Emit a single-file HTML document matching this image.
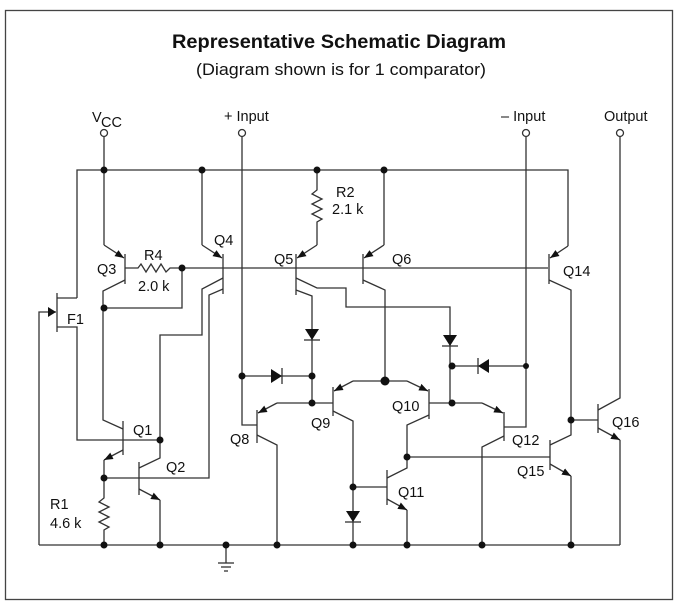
<!DOCTYPE html>
<html><head><meta charset="utf-8"><style>
html,body{margin:0;padding:0;background:#fff;}
svg{display:block;}
text{font-family:"Liberation Sans",Arial,sans-serif;fill:#111;}
</style></head><body>
<svg width="679" height="611" viewBox="0 0 679 611" xmlns="http://www.w3.org/2000/svg">
<defs>
<marker id="a" viewBox="0 0 10 10" refX="10" refY="5" markerWidth="9" markerHeight="9" markerUnits="userSpaceOnUse" orient="auto"><path d="M0,1 L10,5 L0,9 z" fill="#111"/></marker>
</defs>
<rect x="5.5" y="10.5" width="667" height="589" fill="none" stroke="#444" stroke-width="1.3"/>
<text x="339" y="48" font-size="19.5" font-weight="bold" text-anchor="middle" textLength="334" lengthAdjust="spacingAndGlyphs">Representative Schematic Diagram</text>
<text x="341" y="75" font-size="17" text-anchor="middle" textLength="290" lengthAdjust="spacingAndGlyphs">(Diagram shown is for 1 comparator)</text>

<g stroke="#333" stroke-width="1.3" fill="none">
<circle cx="104" cy="133" r="3.5" fill="#fff"/>
<circle cx="242" cy="133" r="3.5" fill="#fff"/>
<circle cx="526" cy="133" r="3.5" fill="#fff"/>
<circle cx="620" cy="133" r="3.5" fill="#fff"/>
<polyline points="77,298 77,170 568,170 568,246"/>
<line x1="104" y1="137" x2="104" y2="245"/>
<line x1="125" y1="254" x2="125" y2="284"/>
<line x1="104" y1="245" x2="124" y2="258" marker-end="url(#a)"/>
<polyline points="125,280 103,291 103,420 123,429"/>
<polyline points="125,268 138,268 141,264 146,272 151,264 156,272 161,264 166,272 170,268 182,268 182,308 104,308"/>
<line x1="182" y1="268" x2="548" y2="268"/>
<line x1="202" y1="170" x2="202" y2="245"/>
<line x1="202" y1="245" x2="222" y2="258" marker-end="url(#a)"/>
<line x1="223" y1="254" x2="223" y2="294"/>
<polyline points="223,278 202,289 202,335 160,335 160,458 139,468"/>
<polyline points="223,289 209,295 209,478 104,478"/>
<polyline points="242,137 242,425 257,425"/>
<polyline points="317,170 317,190 312,194 322,199 312,204 322,209 312,214 322,219 317,222 317,245"/>
<line x1="317" y1="245" x2="297" y2="258" marker-end="url(#a)"/>
<line x1="296" y1="254" x2="296" y2="295"/>
<polyline points="296,278 317,288 346,288 346,307 450,307 450,403"/>
<polyline points="296,290 312,296 312,403"/>
<polyline points="384,170 384,245"/>
<line x1="384" y1="245" x2="364" y2="258" marker-end="url(#a)"/>
<line x1="363" y1="254" x2="363" y2="284"/>
<polyline points="363,280 385,290 385,381"/>
<line x1="568" y1="246" x2="550" y2="258" marker-end="url(#a)"/>
<line x1="549" y1="254" x2="549" y2="284"/>
<polyline points="549,280 571,290 571,435 550,445"/>
<polyline points="526,137 526,427 504,427"/>
<line x1="450" y1="366" x2="526" y2="366"/>
<polyline points="620,137 620,398 598,410"/>
<line x1="598" y1="404" x2="598" y2="433"/>
<line x1="571" y1="420" x2="598" y2="420"/>
<line x1="598" y1="428" x2="620" y2="440" marker-end="url(#a)"/>
<polyline points="620,440 620,545"/>
<line x1="242" y1="376" x2="312" y2="376"/>
<line x1="257" y1="410" x2="257" y2="443"/>
<line x1="312" y1="403" x2="333" y2="403"/>
<polyline points="312,403 277,403"/>
<line x1="277" y1="403" x2="258" y2="413" marker-end="url(#a)"/>
<polyline points="257,435 277,445 277,545"/>
<polyline points="385,381 353,381"/>
<line x1="353" y1="381" x2="334" y2="391" marker-end="url(#a)"/>
<line x1="333" y1="387" x2="333" y2="416"/>
<polyline points="333,411 353,421 353,545"/>
<polyline points="385,381 407,381"/>
<line x1="407" y1="381" x2="428" y2="391" marker-end="url(#a)"/>
<line x1="429" y1="389" x2="429" y2="419"/>
<polyline points="429,403 482,403"/>
<line x1="482" y1="403" x2="503" y2="413" marker-end="url(#a)"/>
<polyline points="429,415 407,425 407,468 387,478"/>
<line x1="387" y1="470" x2="387" y2="505"/>
<line x1="353" y1="487" x2="387" y2="487"/>
<line x1="387" y1="499" x2="407" y2="510" marker-end="url(#a)"/>
<line x1="407" y1="510" x2="407" y2="545"/>
<line x1="504" y1="412" x2="504" y2="441"/>
<polyline points="504,436 482,447 482,545"/>
<line x1="407" y1="457" x2="550" y2="457"/>
<line x1="550" y1="440" x2="550" y2="470"/>
<line x1="550" y1="464" x2="571" y2="476" marker-end="url(#a)"/>
<line x1="571" y1="476" x2="571" y2="545"/>
<line x1="57" y1="293" x2="57" y2="332"/>
<line x1="57" y1="298" x2="77" y2="298"/>
<polyline points="57,327 77,327 77,440 160,440"/>
<polyline points="39,545 39,312 56,312" />
<line x1="123" y1="421" x2="123" y2="455"/>
<line x1="123" y1="450" x2="104" y2="460" marker-end="url(#a)"/>
<polyline points="104,460 104,498 99,502 109,507 99,512 109,517 99,522 109,527 104,530 104,545"/>
<line x1="139" y1="462" x2="139" y2="495"/>
<line x1="139" y1="489" x2="160" y2="500" marker-end="url(#a)"/>
<line x1="160" y1="500" x2="160" y2="545"/>
<line x1="39" y1="545" x2="620" y2="545"/>
<line x1="226" y1="545" x2="226" y2="563"/>
<line x1="218" y1="563" x2="234" y2="563"/>
<line x1="221" y1="567" x2="231" y2="567"/>
<line x1="224" y1="571" x2="228" y2="571"/>
<line x1="304" y1="340" x2="320" y2="340"/>
<line x1="442" y1="346" x2="458" y2="346"/>
<line x1="282" y1="368" x2="282" y2="384"/>
<line x1="478" y1="358" x2="478" y2="374"/>
<line x1="345" y1="522" x2="361" y2="522"/>
</g>
<g fill="#111">
<path d="M48,307 L56,312 L48,317 z"/>
<path d="M305,329 L319,329 L312,340 z"/>
<path d="M443,335 L457,335 L450,346 z"/>
<path d="M271,369 L271,383 L282,376 z"/>
<path d="M489,359 L489,373 L478,366 z"/>
<path d="M346,511 L360,511 L353,522 z"/>
<circle cx="104" cy="170" r="3.5"/><circle cx="202" cy="170" r="3.5"/><circle cx="317" cy="170" r="3.5"/><circle cx="384" cy="170" r="3.5"/>
<circle cx="182" cy="268" r="3.5"/><circle cx="104" cy="308" r="3.5"/>
<circle cx="242" cy="376" r="3.5"/><circle cx="312" cy="376" r="3.5"/><circle cx="312" cy="403" r="3.5"/>
<circle cx="385" cy="381" r="4.5"/><circle cx="452" cy="366" r="3.5"/><circle cx="526" cy="366" r="3"/>
<circle cx="452" cy="403" r="3.5"/><circle cx="407" cy="457" r="3.5"/><circle cx="353" cy="487" r="3.5"/>
<circle cx="571" cy="420" r="3.5"/><circle cx="160" cy="440" r="3.5"/><circle cx="104" cy="478" r="3.5"/>
<circle cx="104" cy="545" r="3.5"/><circle cx="160" cy="545" r="3.5"/><circle cx="226" cy="545" r="3.5"/><circle cx="277" cy="545" r="3.5"/>
<circle cx="353" cy="545" r="3.5"/><circle cx="407" cy="545" r="3.5"/><circle cx="482" cy="545" r="3.5"/><circle cx="571" cy="545" r="3.5"/>
</g>
<g font-size="14.5">
<text x="92" y="122">V</text><text x="101" y="127">CC</text>
<text x="224" y="121">+ Input</text>
<text x="501" y="121">– Input</text>
<text x="604" y="121">Output</text>
<text x="97" y="274">Q3</text>
<text x="144" y="260">R4</text>
<text x="138" y="291">2.0 k</text>
<text x="214" y="245">Q4</text>
<text x="274" y="264">Q5</text>
<text x="336" y="197">R2</text>
<text x="332" y="214">2.1 k</text>
<text x="392" y="264">Q6</text>
<text x="563" y="276">Q14</text>
<text x="67" y="324">F1</text>
<text x="133" y="435">Q1</text>
<text x="166" y="472">Q2</text>
<text x="50" y="509">R1</text>
<text x="50" y="528">4.6 k</text>
<text x="230" y="444">Q8</text>
<text x="311" y="428">Q9</text>
<text x="392" y="411">Q10</text>
<text x="512" y="445">Q12</text>
<text x="517" y="476">Q15</text>
<text x="398" y="497">Q11</text>
<text x="612" y="427">Q16</text>
</g>
</svg>
</body></html>
